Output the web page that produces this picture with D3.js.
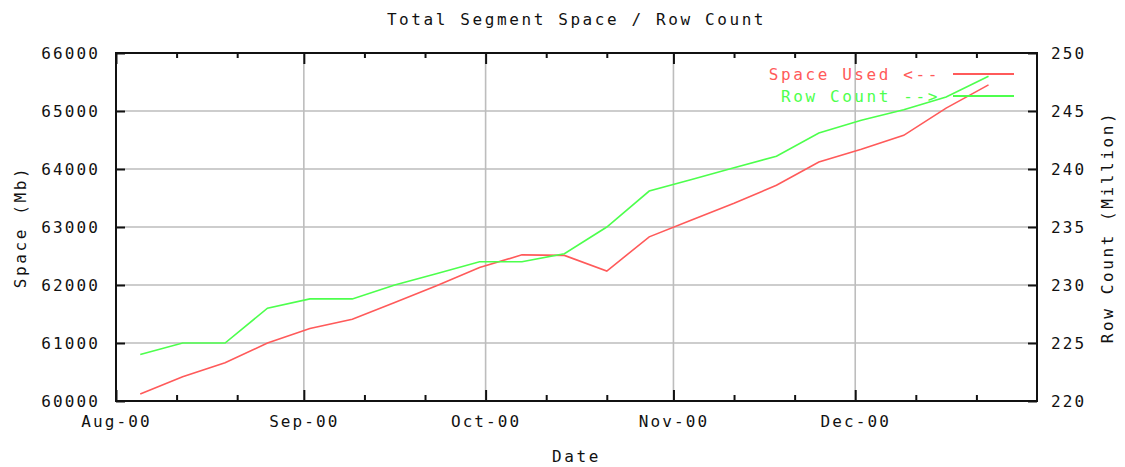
<!DOCTYPE html>
<html>
<head>
<meta charset="utf-8">
<script src="https://cdn.jsdelivr.net/npm/d3@7"></script>
<style>
  html, body { margin: 0; padding: 0; background: #fff; }
  svg { display: block; }
  text { font-family: "DejaVu Sans Mono", "Liberation Mono", monospace; font-size: 16px; letter-spacing: 2.1px; fill: #111; }
  text.wide { letter-spacing: 2.6px; }
</style>
</head>
<body>
<svg id="chart" width="1125" height="467"></svg>
<script>
// ---- Data ----
const dates = ["2000-08-05","2000-08-12","2000-08-19","2000-08-26","2000-09-02","2000-09-09",
  "2000-09-16","2000-09-23","2000-09-30","2000-10-07","2000-10-14","2000-10-21","2000-10-28",
  "2000-11-04","2000-11-11","2000-11-18","2000-11-25","2000-12-02","2000-12-09","2000-12-16","2000-12-23"];
const spaceUsed = [60120, 60420, 60660, 61000, 61250, 61410, 61700, 61990, 62300, 62520, 62510,
  62240, 62830, 63120, 63410, 63720, 64120, 64340, 64580, 65050, 65450];
const rowCount = [224.0, 225.0, 225.0, 228.0, 228.8, 228.8, 230.0, 231.0, 232.0, 232.0, 232.7,
  235.0, 238.1, 239.1, 240.1, 241.1, 243.1, 244.2, 245.1, 246.2, 248.0];
const xDomain = ["2000-08-01", "2000-12-31"];
const majorTicks = ["2000-08-01","2000-09-01","2000-10-01","2000-11-01","2000-12-01"];
const minorTicks = ["2000-08-11","2000-08-21","2000-09-11","2000-09-21","2000-10-11","2000-10-21",
  "2000-11-11","2000-11-21","2000-12-11","2000-12-21"];
const leftTicks = [60000, 61000, 62000, 63000, 64000, 65000, 66000];
const rightTicks = [220, 225, 230, 235, 240, 245, 250];
const title = "Total Segment Space / Row Count";
const xTitle = "Date";
const yLeftTitle = "Space (Mb)";
const yRightTitle = "Row Count (Million)";
const seriesNames = ["Space Used <--", "Row Count -->"];
const colors = ["#ff5a5a", "#4dff4d"];

// ---- Layout ----
const parse = d3.utcParse("%Y-%m-%d");
const L = 116, R = 1037, T = 53, B = 401;
const svg = d3.select("#chart");

const x = d3.scaleUtc().domain(xDomain.map(parse)).range([L, R]);
const yL = d3.scaleLinear().domain([60000, 66000]).range([B, T]);
const yR = d3.scaleLinear().domain([220, 250]).range([B, T]);

// grid
const grid = svg.append("g").attr("stroke", "#bdbdbd").attr("stroke-width", 1.6);
leftTicks.slice(1, -1).forEach(v => {
  grid.append("line").attr("x1", L).attr("x2", R).attr("y1", yL(v)).attr("y2", yL(v));
});
majorTicks.slice(1).forEach(d => {
  grid.append("line").attr("x1", x(parse(d))).attr("x2", x(parse(d))).attr("y1", T).attr("y2", B);
});

// axes with inward ticks
const fmt = d3.utcFormat("%b-%y");
const axB = svg.append("g").attr("transform", `translate(0,${B})`)
  .call(d3.axisBottom(x).tickValues(majorTicks.map(parse)).tickSize(-11).tickPadding(14).tickFormat(fmt));
const axBm = svg.append("g").attr("transform", `translate(0,${B})`)
  .call(d3.axisBottom(x).tickValues(minorTicks.map(parse)).tickSize(-6).tickFormat(""));
const axT = svg.append("g").attr("transform", `translate(0,${T})`)
  .call(d3.axisTop(x).tickValues(majorTicks.map(parse)).tickSize(-11).tickFormat(""));
const axTm = svg.append("g").attr("transform", `translate(0,${T})`)
  .call(d3.axisTop(x).tickValues(minorTicks.map(parse)).tickSize(-5).tickFormat(""));
const axL = svg.append("g").attr("transform", `translate(${L},0)`)
  .call(d3.axisLeft(yL).tickValues(leftTicks).tickSize(-9).tickPadding(16).tickFormat(d3.format("d")));
const axR = svg.append("g").attr("transform", `translate(${R},0)`)
  .call(d3.axisRight(yR).tickValues(rightTicks).tickSize(-9).tickPadding(14).tickFormat(d3.format("d")));
[axB, axBm, axT, axTm, axL, axR].forEach(g => {
  g.select(".domain").remove();
  g.selectAll(".tick line").attr("stroke", "#111").attr("stroke-width", 2);
  g.selectAll(".tick text").attr("font-family", null).attr("font-size", null).attr("fill", "#111");
});
axB.selectAll(".tick text").attr("dy", "0.71em").attr("y", 15);

// frame
svg.append("rect").attr("x", L).attr("y", T).attr("width", R - L).attr("height", B - T)
  .attr("fill", "none").attr("stroke", "#111").attr("stroke-width", 2);

// lines
const pts = dates.map(parse);
const lineL = d3.line().x((d, i) => x(pts[i])).y(d => yL(d));
const lineR = d3.line().x((d, i) => x(pts[i])).y(d => yR(d));
svg.append("path").datum(spaceUsed).attr("d", lineL).attr("fill", "none")
  .attr("stroke", colors[0]).attr("stroke-width", 1.6);
svg.append("path").datum(rowCount).attr("d", lineR).attr("fill", "none")
  .attr("stroke", colors[1]).attr("stroke-width", 1.6);

// legend
seriesNames.forEach((name, i) => {
  const yy = 74 + i * 22;
  svg.append("text").attr("class", "wide").attr("x", 940).attr("y", yy).attr("dy", "0.35em")
    .attr("text-anchor", "end").style("fill", colors[i]).text(name);
  svg.append("line").attr("x1", 953).attr("x2", 1014).attr("y1", yy).attr("y2", yy)
    .attr("stroke", colors[i]).attr("stroke-width", 1.8);
});

// titles
svg.append("text").attr("class", "wide").attr("x", (L + R) / 2).attr("y", 19).attr("dy", "0.35em")
  .attr("text-anchor", "middle").text(title);
svg.append("text").attr("class", "wide").attr("x", (L + R) / 2).attr("y", 456).attr("dy", "0.35em")
  .attr("text-anchor", "middle").text(xTitle);
svg.append("text").attr("class", "wide").attr("transform", `translate(20,${(T + B) / 2}) rotate(-90)`).attr("dy", "0.35em")
  .attr("text-anchor", "middle").text(yLeftTitle);
svg.append("text").attr("class", "wide").attr("transform", `translate(1107,${(T + B) / 2}) rotate(-90)`).attr("dy", "0.35em")
  .attr("text-anchor", "middle").text(yRightTitle);
</script>
</body>
</html>
